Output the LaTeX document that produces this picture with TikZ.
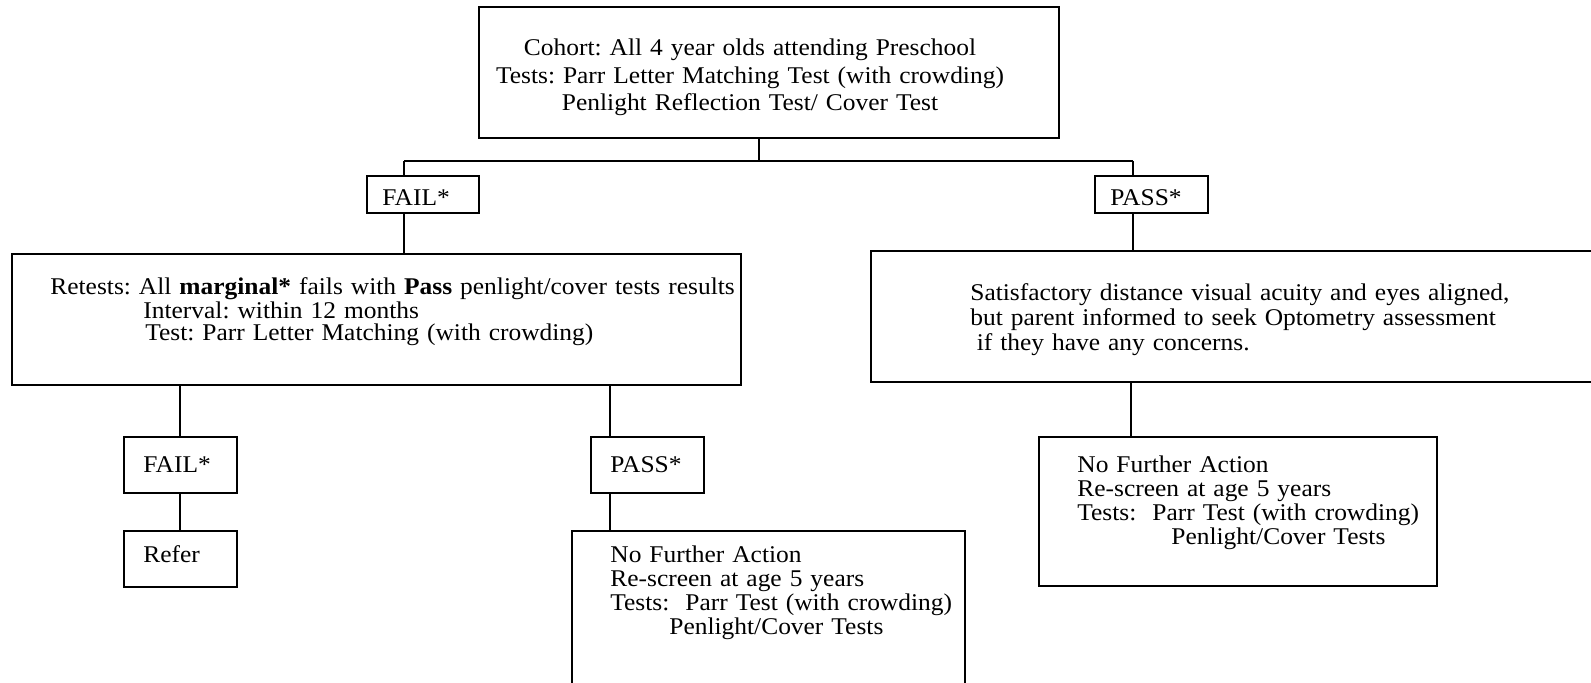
\documentclass[tikz,border=0pt]{standalone}
\usepackage{fontspec}
\setmainfont{Liberation Serif}[FakeStretch=1.06]
\usetikzlibrary{fit}
\frenchspacing
\lineskiplimit=-100pt
\begin{document}
\begin{tikzpicture}[x=0.5pt,y=-0.5pt,
  box/.style={draw, line width=1pt, inner sep=0pt},
  link/.style={line width=0.8pt},
  txt/.style={inner sep=0pt, anchor=base west, align=left, text width=400pt},
  ctxt/.style={inner sep=0pt, anchor=base, align=center, text width=400pt},
  lbl/.style={inner sep=0pt, anchor=base west},
  font=\fontsize{12pt}{13pt}\selectfont
]
\useasboundingbox (0,0) rectangle (1591,683);
\clip (0,0) rectangle (1591,683);

% boxes
\node[box, fit={(479,7) (1059,138)}] (cohort) {};
\node[box, fit={(367,176) (479,213)}] (fail) {};
\node[box, fit={(1095,176) (1208,213)}] (pass) {};
\node[box, fit={(12,254) (741,385)}] (retest) {};
\node[box, fit={(871,251) (1620,382)}] (ok) {};
\node[box, fit={(124,437) (237,493)}] (failB) {};
\node[box, fit={(591,437) (704,493)}] (passB) {};
\node[box, fit={(124,531) (237,587)}] (refer) {};
\node[box, fit={(572,531) (965,720)}] (nfaB) {};
\node[box, fit={(1039,437) (1437,586)}] (nfaA) {};

% texts
\node[ctxt, font=\fontsize{12pt}{13.7pt}\selectfont] (tCohort) at (750,56)
  {Cohort: All 4 year olds attending Preschool\\
   Tests: Parr Letter Matching Test (with crowding)\\
   Penlight Reflection Test/ Cover Test};
\node[lbl] (tFail) at (382,206) {FAIL*};
\node[lbl] (tPass) at (1110,206) {PASS*};
\node[txt, font=\fontsize{12pt}{10.65pt}\selectfont] (tRetest) at (50,295)
  {Retests: All \textbf{marginal*} fails with \textbf{Pass} penlight/cover tests results\\
   \hspace*{46.5pt}Interval: within 12 months\\
   \hspace*{47.5pt}Test: Parr Letter Matching (with crowding)};
\node[txt, font=\fontsize{12pt}{12.45pt}\selectfont] (tOk) at (970,301)
  {Satisfactory distance visual acuity and eyes aligned,\\
   but parent informed to seek Optometry assessment\\
   \hspace*{3.2pt}if they have any concerns.};
\node[lbl] (tFailB) at (143,473) {FAIL*};
\node[lbl] (tPassB) at (610,473) {PASS*};
\node[lbl] (tRefer) at (143,563) {Refer};
\node[txt, font=\fontsize{12pt}{11.9pt}\selectfont] (tNfaB) at (610,563)
  {No Further Action\\
   Re-screen at age 5 years\\
   Tests:\ \ Parr Test (with crowding)\\
   \hspace*{29.5pt}Penlight/Cover Tests};
\node[txt, font=\fontsize{12pt}{11.9pt}\selectfont] (tNfaA) at (1077,473)
  {No Further Action\\
   Re-screen at age 5 years\\
   Tests:\ \ Parr Test (with crowding)\\
   \hspace*{47pt}Penlight/Cover Tests};

% connectors
\coordinate (jc) at (759,161);
\coordinate (jl) at (404,161);
\coordinate (jr) at (1133,161);
\coordinate (kl) at (180,400);
\coordinate (km) at (610,400);
\coordinate (kr) at (1131,400);
\draw[link] (cohort.south -| jc) -- (jc);
\draw[link] (jl) -- (jr);
\draw[link] (jl) -- (jl |- fail.north);
\draw[link] (jr) -- (jr |- pass.north);
\draw[link] (fail.south -| jl) -- (retest.north -| jl);
\draw[link] (pass.south -| jr) -- (ok.north -| jr);
\draw[link] (retest.south -| kl) -- (failB.north -| kl);
\draw[link] (retest.south -| km) -- (passB.north -| km);
\draw[link] (failB.south -| kl) -- (refer.north -| kl);
\draw[link] (passB.south -| km) -- (nfaB.north -| km);
\draw[link] (ok.south -| kr) -- (nfaA.north -| kr);
\end{tikzpicture}
\end{document}
